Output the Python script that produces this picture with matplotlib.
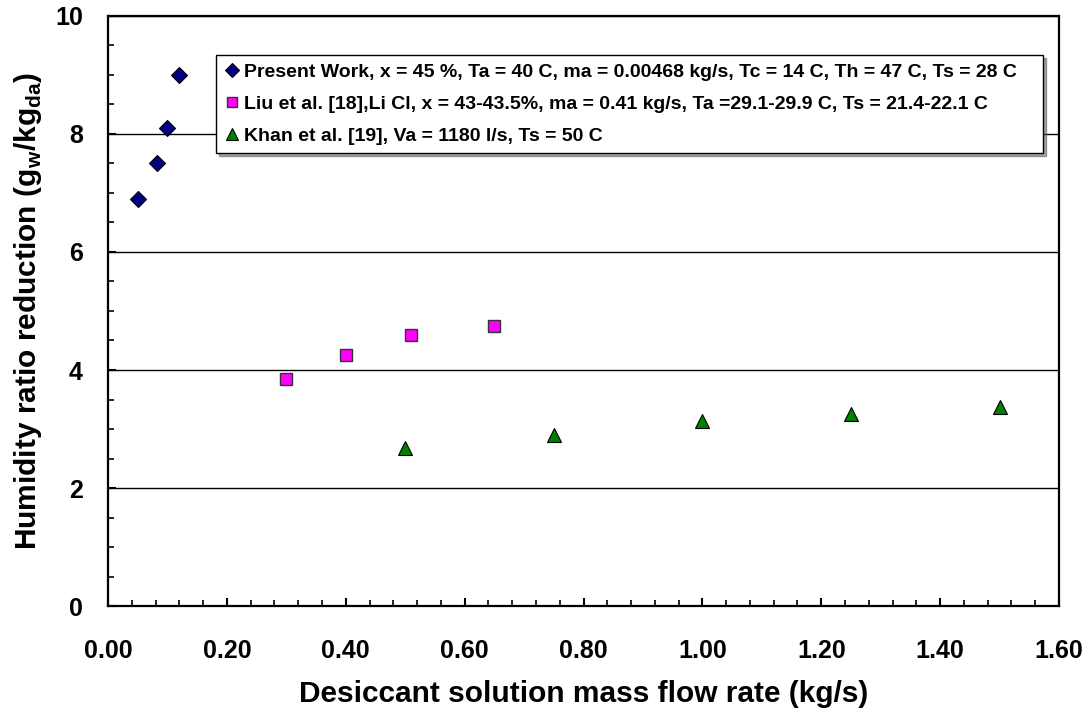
import matplotlib
matplotlib.use('Agg')
import matplotlib.pyplot as plt
from matplotlib.ticker import MultipleLocator, FormatStrFormatter

plt.rcParams['font.family'] = ['Liberation Sans', 'DejaVu Sans']
plt.rcParams['font.weight'] = 'bold'
plt.rcParams['mathtext.fontset'] = 'custom'
plt.rcParams['mathtext.rm'] = 'Liberation Sans'
plt.rcParams['mathtext.bf'] = 'Liberation Sans:bold'

# present work
presentFlow = [0.05, 0.083, 0.10, 0.12]
presentReduction = [6.9, 7.5, 8.1, 9.0]

# Liu et al. [18]
liuFlow = [0.30, 0.40, 0.51, 0.65]
liuReduction = [3.85, 4.25, 4.6, 4.75]

# Khan et al. [19]
khanFlow = [0.50, 0.75, 1.00, 1.25, 1.50]
khanReduction = [2.68, 2.90, 3.13, 3.25, 3.37]

presentLabel = 'Present Work, x = 45 %, Ta = 40 C, ma = 0.00468 kg/s, Tc = 14 C, Th = 47 C, Ts = 28 C'
liuLabel = 'Liu et al. [18],Li Cl, x = 43-43.5%, ma = 0.41 kg/s, Ta =29.1-29.9 C, Ts = 21.4-22.1 C'
khanLabel = 'Khan et al. [19], Va = 1180 l/s, Ts = 50 C'

fig = plt.figure(figsize=(10.92, 7.17), dpi=100)
ax = fig.add_axes([0.0989, 0.1548, 0.8709, 0.8229])

ax.plot(presentFlow, presentReduction, linestyle='none', marker='D', markersize=8,
        markerfacecolor='#000080', markeredgecolor='black', markeredgewidth=0.8,
        label=presentLabel, zorder=3)
ax.plot(liuFlow, liuReduction, linestyle='none', marker='s', markersize=8.5,
        markerfacecolor='#ff00ff', markeredgecolor='#333333', markeredgewidth=1.0,
        label=liuLabel, zorder=3)
ax.plot(khanFlow, khanReduction, linestyle='none', marker='^', markersize=9.5,
        markerfacecolor='#008000', markeredgecolor='black', markeredgewidth=0.8,
        label=khanLabel, zorder=3)

ax.set_xlim(0, 1.6)
ax.set_ylim(0, 10)
ax.xaxis.set_major_locator(MultipleLocator(0.2))
ax.xaxis.set_minor_locator(MultipleLocator(0.04))
ax.yaxis.set_major_locator(MultipleLocator(2))
ax.yaxis.set_minor_locator(MultipleLocator(0.5))
ax.xaxis.set_major_formatter(FormatStrFormatter('%.2f'))

ax.grid(axis='y', which='major', color='black', linewidth=1.0)
ax.set_axisbelow(True)

for side in ['left', 'right', 'top', 'bottom']:
    ax.spines[side].set_linewidth(1.6)

ax.tick_params(axis='both', which='major', direction='in', length=6, width=1.5,
               labelsize=18)
ax.tick_params(axis='x', which='major', pad=24)
ax.tick_params(axis='y', which='major', pad=18)
ax.tick_params(axis='both', which='minor', direction='in', length=4, width=1.2)
for lbl in ax.get_xticklabels() + ax.get_yticklabels():
    lbl.set_fontweight('bold')

ax.set_xlabel('Desiccant solution mass flow rate (kg/s)', fontsize=21.5,
              fontweight='bold', labelpad=12)
ax.set_ylabel(r'Humidity ratio reduction (g$_\mathregular{w}$/kg$_\mathregular{da}$)',
              fontsize=21.5, fontweight='bold', labelpad=8)

leg = ax.legend(loc='upper left', bbox_to_anchor=(0.1136, 0.934, 0.870, 0.0),
                mode='expand', borderaxespad=0, fancybox=False, shadow=True,
                edgecolor='black', framealpha=1, prop={'size': 14, 'weight': 'bold'},
                handlelength=0.7, handletextpad=0.3, labelspacing=0.72,
                borderpad=0.45, markerscale=0.9)
leg.get_frame().set_linewidth(1.0)

fig.savefig('out.png', dpi=100)
